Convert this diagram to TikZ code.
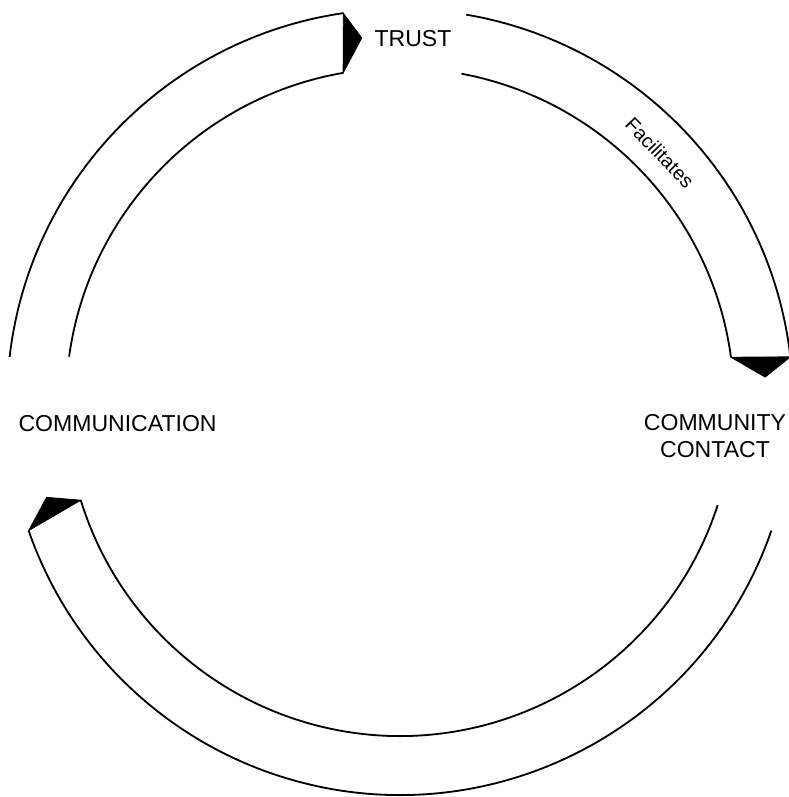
\documentclass[tikz,border=0pt]{standalone}
\usepackage{fontspec}
\setmainfont{Liberation Sans}
\tikzset{
  band/.style={line width=1.3pt},
  head/.style={fill=black, draw=black, line width=0.6pt, line join=miter},
  lab/.style={inner sep=0pt, font=\fontsize{16.4}{18.6}\selectfont}
}
\begin{document}
\begin{tikzpicture}
\useasboundingbox (-10,-9.875) rectangle (9.725,10.05);
\coordinate (c) at (0,0);

% outer r = 9.825, inner r = 8.35
\foreach \os/\oe/\is/\ie/\t in {173.4/98.3/172.2/99.8/96.0, 80.3/6.6/79.4/7.7/3.9, -19.1/-160.9/-18/-162.9/-164.9}{
\draw[band] (\os:9.825) arc[start angle=\os, end angle=\oe, radius=9.825];
\draw[band] (\is:8.35) arc[start angle=\is, end angle=\ie, radius=8.35];
\filldraw[head] (\oe:9.825) -- (\t:9.15) -- (\ie:8.35) -- cycle;
}

\node[lab] (trust) at (0.325,9.09) {TRUST};
\node[lab] (comm) at (-7.06,-0.54) {COMMUNICATION};
\node[lab, align=center] (contact) at (7.875,-0.85) {COMMUNITY\\CONTACT};
\node[inner sep=0pt, font=\fontsize{14}{16}\selectfont, rotate=-46.2] (fac) at (43.8:9.0) {Facilitates};
\end{tikzpicture}
\end{document}
